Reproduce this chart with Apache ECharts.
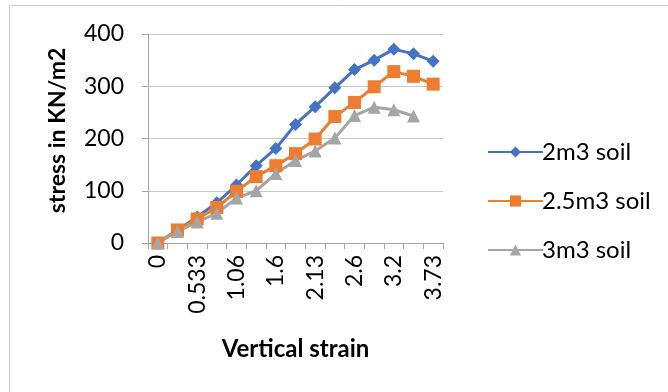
<!DOCTYPE html>
<html>
<head>
<meta charset="utf-8">
<script src="https://cdn.jsdelivr.net/npm/echarts@6/dist/echarts.min.js"></script>
<style>
  html, body { margin: 0; padding: 0; background: #fff; }
  #chart { width: 668px; height: 392px; }
</style>
</head>
<body>
<div id="chart"></div>
<script>
// Vertical strain values (category axis)
const strainCategories = ['0', '0.266', '0.533', '0.8', '1.06', '1.33', '1.6', '1.86', '2.13', '2.4', '2.6', '2.93', '3.2', '3.46', '3.73'];

// Stress in KN/m2 for each soil volume
const soil2m3 = [0, 25, 50, 77, 111, 148, 181, 227, 261, 297, 332, 350, 371, 362, 348];
const soil25m3 = [0, 25, 46, 68, 99, 127, 148, 171, 199, 242, 269, 299, 328, 319, 304];
const soil3m3 = [0, 22, 40, 57, 86, 100, 133, 158, 176, 201, 244, 260, 255, 243, null];

const seriesNames = ['2m3 soil', '2.5m3 soil', '3m3 soil'];
const seriesColors = ['#4472C4', '#ED7D31', '#A5A5A5'];

const FONT = 'Lato, "Open Sans", sans-serif';

const chart = echarts.init(document.getElementById('chart'), null, { renderer: 'canvas' });

chart.setOption({
  animation: false,
  backgroundColor: '#fff',
  graphic: [{
    type: 'rect',
    shape: { x: 9.5, y: 5.5, width: 700, height: 400 },
    style: { fill: 'none', stroke: '#d0d0d0', lineWidth: 1 },
    silent: true
  }],
  grid: { left: 148, right: 225, top: 34, bottom: 149, containLabel: false },
  legend: {
    orient: 'vertical',
    left: 482,
    top: 135,
    itemWidth: 55,
    itemHeight: 14,
    itemGap: 25,
    textStyle: { fontFamily: FONT, fontSize: 24, color: '#000', padding: [0, 0, 0, -6] },
    data: seriesNames
  },
  xAxis: {
    type: 'category',
    data: strainCategories,
    boundaryGap: true,
    name: 'Vertical strain',
    nameLocation: 'middle',
    nameGap: 94,
    nameTextStyle: { fontFamily: FONT, fontSize: 24, fontWeight: 'bold', color: '#000' },
    axisLine: { show: true, lineStyle: { color: '#a6a6a6', width: 1 } },
    axisTick: { show: true, interval: 0, length: 6, lineStyle: { color: '#a6a6a6' } },
    axisLabel: { interval: 1, rotate: 90, margin: 12, fontFamily: FONT, fontSize: 23, color: '#000' },
    splitLine: { show: false }
  },
  yAxis: {
    type: 'value',
    min: 0,
    max: 400,
    interval: 100,
    name: 'stress in KN/m2',
    nameLocation: 'middle',
    nameGap: 79,
    nameRotate: 90,
    nameTextStyle: { fontFamily: FONT, fontSize: 23, fontWeight: 'bold', color: '#000', padding: [0, 0, 0, 16] },
    axisLine: { show: true, lineStyle: { color: '#a6a6a6', width: 1 } },
    axisTick: { show: true, inside: false, length: 6, lineStyle: { color: '#a6a6a6' } },
    axisLabel: { margin: 24, fontFamily: FONT, fontSize: 23, color: '#000' },
    splitLine: { show: true, lineStyle: { color: '#c8c8c8', width: 1 } }
  },
  series: [
    {
      name: seriesNames[0], type: 'line', data: soil2m3,
      symbol: 'diamond', symbolSize: 13,
      lineStyle: { color: seriesColors[0], width: 3 },
      itemStyle: { color: seriesColors[0] }
    },
    {
      name: seriesNames[1], type: 'line', data: soil25m3,
      symbol: 'rect', symbolSize: 13,
      lineStyle: { color: seriesColors[1], width: 3 },
      itemStyle: { color: seriesColors[1] }
    },
    {
      name: seriesNames[2], type: 'line', data: soil3m3,
      symbol: 'triangle', symbolSize: 13,
      lineStyle: { color: seriesColors[2], width: 3 },
      itemStyle: { color: seriesColors[2] }
    }
  ]
});
</script>
</body>
</html>
